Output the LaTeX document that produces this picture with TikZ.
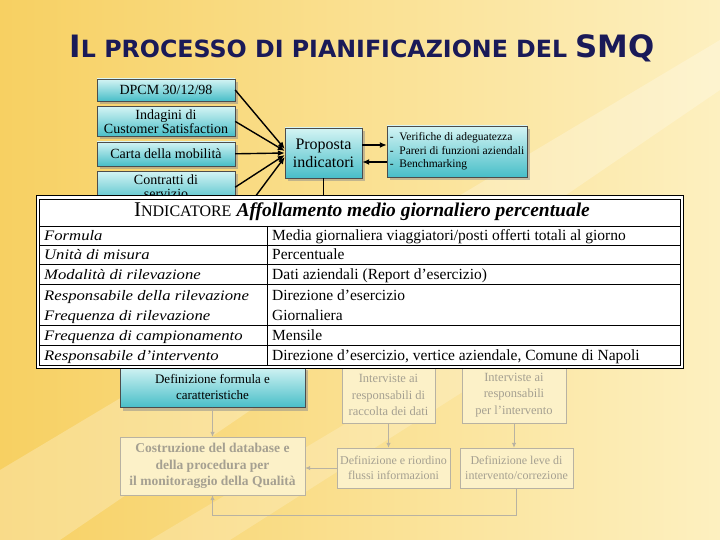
\documentclass[tikz,border=0pt]{standalone}
\usepackage{fontspec}
\setmainfont{Liberation Serif}
\newfontfamily\titlefont{DejaVu Sans}
\newfontfamily\cellfont{Liberation Serif}[FakeStretch=1.15]
\usepackage{graphicx}
\usepackage{xcolor}
\usetikzlibrary{positioning,shadows,arrows.meta,calc}

\definecolor{bgdeep}{RGB}{247,208,98}
\definecolor{bglight}{RGB}{253,240,192}
\definecolor{titleblue}{RGB}{26,26,88}
\definecolor{tealtop}{RGB}{212,244,244}
\definecolor{tealbot}{RGB}{72,190,200}
\definecolor{fadeline}{RGB}{184,178,162}
\definecolor{fadetext}{RGB}{165,160,145}
\definecolor{fadefill}{RGB}{252,241,200}

\tikzset{
  lbox/.style={draw=black!70, top color=tealtop, bottom color=tealbot,
    drop shadow={shadow xshift=3pt,shadow yshift=-3pt,fill=black!45},
    inner sep=1pt, align=center, font=\fontsize{14}{14}\selectfont},
  fbox/.style={draw=fadeline, fill=fadefill, text=fadetext, align=center,
    inner sep=1pt, font=\fontsize{12.5}{16.5}\selectfont},
  inarrow/.style={line width=1.4pt, -{Latex[length=7pt,width=6pt]}},
  farrow/.style={draw=fadeline, line width=1pt, -{Latex[length=5pt,width=4.5pt]}},
  lcell/.style={anchor=base west, inner sep=0pt, font=\cellfont\itshape\fontsize{14.5}{15}\selectfont},
  rcell/.style={anchor=base west, inner sep=0pt, font=\fontsize{15.5}{16}\selectfont},
}

\newcommand\smqtitle{\titlefont\bfseries
  {\fontsize{26}{26}\selectfont I}{\fontsize{20}{20}\selectfont L PROCESSO DI PIANIFICAZIONE DEL }{\fontsize{26}{26}\selectfont SMQ}}

\begin{document}
\begin{tikzpicture}[x=1pt,y=-1pt]
  % sfondo
  \shade[left color=bgdeep, right color=bglight] (0,0) rectangle (720,540);
  \fill[white, opacity=0.25] (0,470) -- (0,540) -- (60,540) -- (720,90) -- (720,40) -- cycle;
  \fill[white, opacity=0.2] (150,540) -- (230,540) -- (560,330) -- (520,320) -- cycle;
  \useasboundingbox (0,0) rectangle (720,540);

  % titolo
  \node[text=titleblue] (title) at (362,48) {\resizebox{585pt}{!}{\smqtitle}};

  % fonti
  \node[lbox, minimum width=138pt, minimum height=22pt] (dpcm) at (166,90) {DPCM 30/12/98};
  \node[lbox, minimum width=138pt, minimum height=30pt, below=5pt of dpcm] (indag) {Indagini di\\Customer Satisfaction};
  \node[lbox, minimum width=138pt, minimum height=24pt, below=5pt of indag] (carta) {Carta della mobilità};
  \node[lbox, minimum width=138pt, minimum height=32pt, below=5pt of carta] (contr) {Contratti di\\servizio};
  \coordinate (hid) at (255,197);

  \node[lbox, minimum width=77pt, minimum height=50pt, font=\fontsize{16}{18}\selectfont] (prop) at (323.5,153) {Proposta\\indicatori};
  \node[lbox, minimum width=140pt, minimum height=51pt, align=left, font=\fontsize{11.5}{13.5}\selectfont] (verif) at (457,151.5)
    {-\ \ Verifiche di adeguatezza\\-\ \ Pareri di funzioni aziendali\\-\ \ Benchmarking};

  \draw[inarrow] (dpcm.east) -- ([yshift=4pt]prop.west);
  \draw[inarrow] (indag.east) -- ([yshift=2pt]prop.west);
  \draw[inarrow] (carta.east) -- (prop.west);
  \draw[inarrow] (contr.east) -- ([yshift=-2pt]prop.west);
  \draw[inarrow] (hid) -- ([yshift=-4pt]prop.west);
  \draw[inarrow] ([yshift=8pt]prop.east) -- ([yshift=8pt]prop.east -| verif.west);
  \draw[inarrow] ([yshift=-9pt]prop.east -| verif.west) -- ([yshift=-9pt]prop.east);
  \draw[line width=1.4pt] (prop.south) -- (prop.south |- hid);

  % fasi successive
  \node[lbox, minimum width=185pt, minimum height=41pt, font=\fontsize{13}{16}\selectfont] (defform) at (212.5,387) {Definizione formula e\\caratteristiche};
  \node[fbox, minimum width=93pt, minimum height=56pt] (int1) at (388.5,395) {Interviste ai\\responsabili di\\raccolta dei dati};
  \node[fbox, minimum width=104pt, minimum height=56pt] (int2) at (514,395) {Interviste ai\\responsabili\\per l’intervento};
  \node[fbox, minimum width=185pt, minimum height=58pt, font=\bfseries\fontsize{13.5}{16.5}\selectfont] (costr) at (212.5,466)
    {Costruzione del database e\\della procedura per\\il monitoraggio della Qualità};
  \node[fbox, minimum width=113pt, minimum height=40pt, font=\fontsize{12}{15.5}\selectfont] (riord) at (393.5,468) {Definizione e riordino\\flussi informazioni};
  \node[fbox, minimum width=113pt, minimum height=40pt, font=\fontsize{12}{15.5}\selectfont] (leve) at (516.5,468) {Definizione leve di\\intervento/correzione};

  \draw[farrow] (defform.south) -- (costr.north);
  \draw[farrow] (int1.south) -- (int1.south |- riord.north);
  \draw[farrow] (int2.south) -- (int2.south |- leve.north);
  \draw[farrow] (riord.west) -- (riord.west -| costr.east);
  \draw[farrow] (leve.south) -- ++(0,27) -| (costr.south);

  % tabella indicatore
  \fill[white] (36,196) rectangle (683,368);
  \draw[line width=1pt] (36,196) rectangle (683,368);
  \draw[line width=0.8pt] (39,199) rectangle (680,365);
  \foreach \yy in {226,245,264,284,325,345}
    \draw[line width=0.8pt] (39,\yy) -- (680,\yy);
  \draw[line width=0.8pt] (267,226) -- (267,365);

  \node[inner sep=0pt] (thead) at (362,212)
    {{\fontsize{21}{21}\selectfont I}{\fontsize{16}{16}\selectfont NDICATORE}\ \ {\fontsize{19.5}{20}\selectfont\bfseries\itshape Affollamento medio giornaliero percentuale}};

  \node[lcell] (l1) at (44,240.5) {Formula};
  \node[lcell] (l2) at (44,259.5) {Unità di misura};
  \node[lcell] (l3) at (44,279) {Modalità di rilevazione};
  \node[lcell] (l4) at (44,300) {Responsabile della rilevazione};
  \node[lcell] (l5) at (44,320) {Frequenza di rilevazione};
  \node[lcell] (l6) at (44,340) {Frequenza di campionamento};
  \node[lcell] (l7) at (44,360.5) {Responsabile d’intervento};

  \node[rcell] (r1) at (272,240.5) {Media giornaliera viaggiatori/posti offerti totali al giorno};
  \node[rcell] (r2) at (272,259.5) {Percentuale};
  \node[rcell] (r3) at (272,279) {Dati aziendali (Report d’esercizio)};
  \node[rcell] (r4) at (272,300) {Direzione d’esercizio};
  \node[rcell] (r5) at (272,320) {Giornaliera};
  \node[rcell] (r6) at (272,340) {Mensile};
  \node[rcell] (r7) at (272,360.5) {Direzione d’esercizio, vertice aziendale, Comune di Napoli};
\end{tikzpicture}
\end{document}
